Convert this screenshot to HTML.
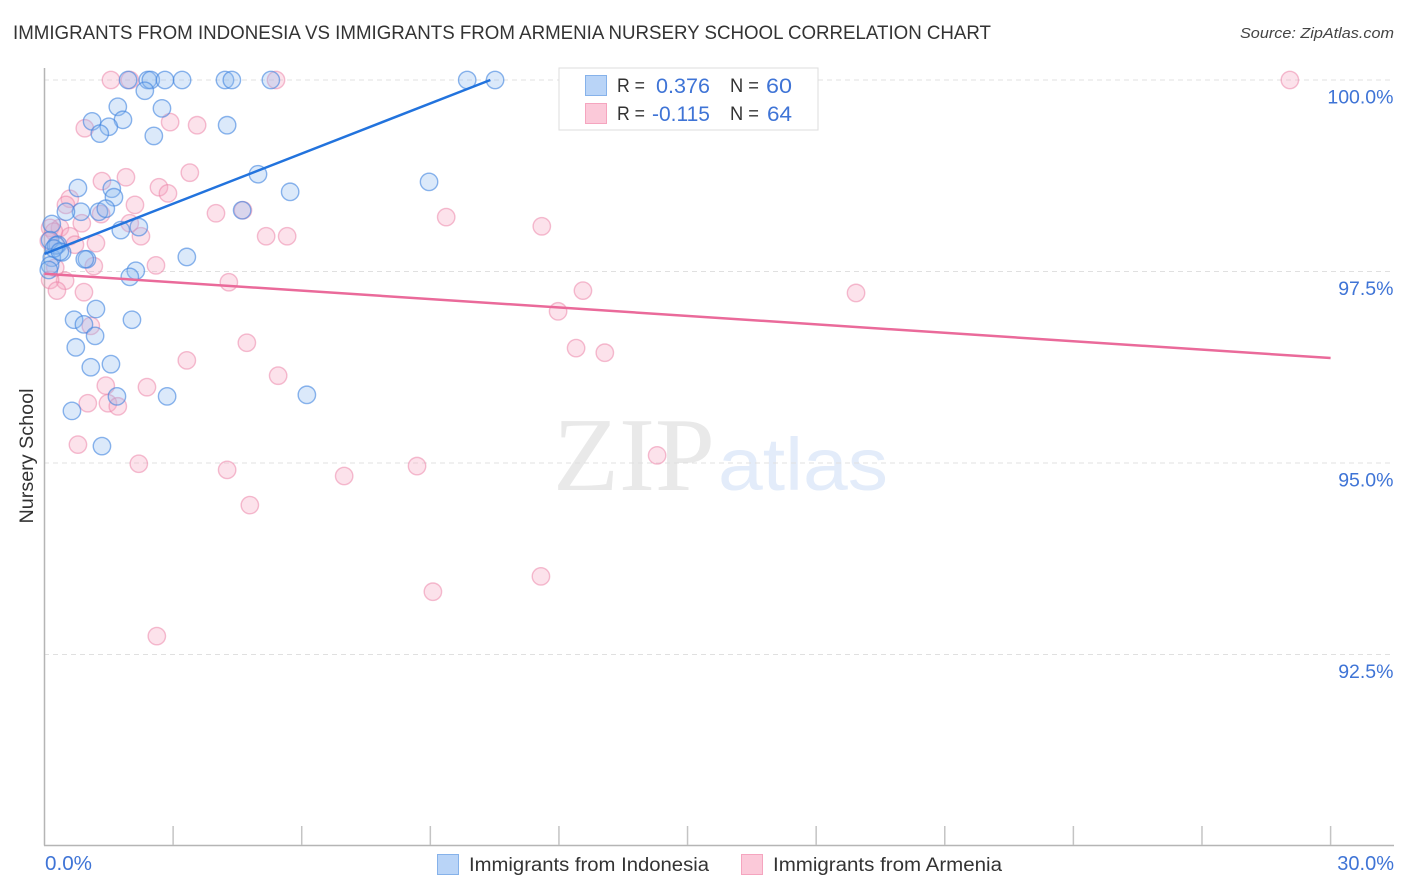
<!DOCTYPE html>
<html lang="en">
<head>
<meta charset="utf-8">
<title>Immigrants from Indonesia vs Immigrants from Armenia Nursery School Correlation Chart</title>
<style>
html,body{margin:0;padding:0;background:#fff;width:1406px;height:892px;overflow:hidden}
svg{display:block;font-family:"Liberation Sans",sans-serif}
</style>
</head>
<body>
<svg id="chart" width="1406" height="892" viewBox="0 0 1406 892" xmlns="http://www.w3.org/2000/svg">
  <rect width="1406" height="892" fill="#fff"/>
  <text x="13" y="39" font-size="19.5" fill="#333" textLength="978" lengthAdjust="spacingAndGlyphs">IMMIGRANTS FROM INDONESIA VS IMMIGRANTS FROM ARMENIA NURSERY SCHOOL CORRELATION CHART</text>
  <text x="1394" y="38" font-size="15" font-style="italic" fill="#444" text-anchor="end" textLength="154" lengthAdjust="spacingAndGlyphs">Source: ZipAtlas.com</text>
  <g>
    <text x="553" y="490" font-family="'Liberation Serif',serif" font-size="105" fill="#e9e9e9" textLength="162" lengthAdjust="spacingAndGlyphs">ZIP</text>
    <text x="718" y="490" font-size="74" fill="#e3ecfa" textLength="170" lengthAdjust="spacingAndGlyphs">atlas</text>
  </g>
  <g id="grid"></g>
  <g id="axes"></g>
  <g id="pink-points"></g>
  <g id="blue-points"></g>
  <g id="trends"></g>
  <text transform="translate(33,456) rotate(-90)" font-size="19" fill="#333" text-anchor="middle" textLength="135" lengthAdjust="spacingAndGlyphs">Nursery School</text>

  <g>
    <rect x="559" y="68" width="259" height="62" fill="#fff" stroke="#ddd" stroke-width="1"/>
    <rect x="585.5" y="75.5" width="21" height="20" fill="#b9d4f7" stroke="#86b2ea"/>
    <rect x="585.5" y="103.5" width="21" height="20" fill="#fbc9d9" stroke="#f5a5bf"/>
    <text x="617" y="92" font-size="19" fill="#333" textLength="28" lengthAdjust="spacingAndGlyphs">R =</text>
    <text x="656" y="93" font-size="21" fill="#3f74d6" textLength="54" lengthAdjust="spacingAndGlyphs">0.376</text>
    <text x="730" y="92" font-size="19" fill="#333" textLength="29" lengthAdjust="spacingAndGlyphs">N =</text>
    <text x="766" y="93" font-size="21" fill="#3f74d6" textLength="26" lengthAdjust="spacingAndGlyphs">60</text>
    <text x="617" y="120" font-size="19" fill="#333" textLength="28" lengthAdjust="spacingAndGlyphs">R =</text>
    <text x="652" y="121" font-size="21" fill="#3f74d6" textLength="58" lengthAdjust="spacingAndGlyphs">-0.115</text>
    <text x="730" y="120" font-size="19" fill="#333" textLength="29" lengthAdjust="spacingAndGlyphs">N =</text>
    <text x="767" y="121" font-size="21" fill="#3f74d6" textLength="25" lengthAdjust="spacingAndGlyphs">64</text>
  </g>

  <g>
    <rect x="437.5" y="854.5" width="21" height="20" fill="#b9d4f7" stroke="#86b2ea"/>
    <text x="469" y="871" font-size="19" fill="#333" textLength="240" lengthAdjust="spacingAndGlyphs">Immigrants from Indonesia</text>
    <rect x="741.5" y="854.5" width="21" height="20" fill="#fbc9d9" stroke="#f5a5bf"/>
    <text x="773" y="871" font-size="19" fill="#333" textLength="229" lengthAdjust="spacingAndGlyphs">Immigrants from Armenia</text>
  </g>
</svg>
<script>
var yTickValues = [100, 97.5, 95, 92.5];
var yTickLabels = ["100.0%", "97.5%", "95.0%", "92.5%"];
var xTickValues = [3, 6, 9, 12, 15, 18, 21, 24, 27, 30];
var xEndLabels = ["0.0%", "30.0%"];

var indonesiaX = [1.95,2.41,2.48,2.81,3.21,4.21,4.37,5.28,9.86,10.51,2.34,1.71,2.74,1.11,1.83,1.50,1.29,2.55,4.26,4.98,8.97,5.73,0.78,1.57,1.62,4.61,0.85,1.27,1.43,0.50,0.17,1.78,2.20,3.32,0.13,0.31,0.41,0.99,0.94,0.17,0.13,2.13,1.99,1.20,0.69,0.92,2.04,1.18,0.73,1.55,1.08,2.86,6.12,1.69,0.64,1.34,0.27,0.22,0.36,0.10];
var indonesiaY = [100,100,100,100,100,100,100,100,100,100,99.86,99.65,99.63,99.46,99.48,99.39,99.30,99.27,99.41,98.77,98.67,98.54,98.59,98.58,98.47,98.30,98.28,98.28,98.32,98.28,98.12,98.04,98.08,97.69,97.91,97.85,97.75,97.66,97.66,97.68,97.58,97.51,97.43,97.01,96.87,96.81,96.87,96.66,96.51,96.29,96.25,95.87,95.89,95.87,95.68,95.22,97.84,97.80,97.76,97.52];

var armeniaX = [1.55,1.99,5.40,29.05,0.94,2.93,3.56,3.39,1.90,1.34,2.67,2.88,0.59,2.11,0.50,4.00,4.63,9.37,1.32,1.99,0.87,11.6,2.25,5.17,5.66,1.20,0.36,0.13,0.22,0.59,0.71,1.15,2.60,4.30,0.48,0.13,0.29,0.92,12.56,18.93,11.98,1.08,4.72,12.4,13.07,3.32,5.45,1.43,2.39,1.01,1.48,1.71,0.78,2.20,4.26,8.69,14.29,6.99,4.79,11.58,9.06,2.62,0.10,0.25];
var armeniaY = [100,100,100,100,99.37,99.45,99.41,98.79,98.73,98.68,98.60,98.52,98.45,98.37,98.37,98.26,98.30,98.21,98.25,98.13,98.13,98.09,97.96,97.96,97.96,97.87,98.07,98.07,98.02,97.96,97.85,97.57,97.58,97.36,97.38,97.39,97.25,97.23,97.25,97.22,96.98,96.79,96.57,96.50,96.44,96.34,96.14,96.01,95.99,95.78,95.78,95.74,95.24,94.99,94.91,94.96,95.10,94.83,94.45,93.52,93.32,92.74,97.90,97.55];

var indonesiaTrendX = [0, 10.4];
var indonesiaTrendY = [97.73, 100];
var armeniaTrendX = [0, 30];
var armeniaTrendY = [97.47, 96.37];

var NS = "http://www.w3.org/2000/svg";
function xPos(v){ return 44.5 + v * 42.87; }
function yPos(v){ return 80 + (100 - v) * 76.6; }
function make(tag, attrs, parent){
  var el = document.createElementNS(NS, tag);
  for (var k in attrs) el.setAttribute(k, attrs[k]);
  parent.appendChild(el);
  return el;
}

var grid = document.getElementById("grid");
var axes = document.getElementById("axes");

yTickValues.forEach(function(v, i){
  var line = make("line", {x1:44, x2:1394, y1:yPos(v), y2:yPos(v), stroke:"#e0e0e0", "stroke-width":1, "stroke-dasharray":"5 4"}, grid);
  
  
  var label = make("text", {x:1393.5, y:yPos(v) + 23.5, "font-size":19.5, fill:"#3f74d6", "text-anchor":"end"}, axes);
  
  
  label.textContent = yTickLabels[i];
});

var yAxis = make("line", {x1:44.5, x2:44.5, y1:68, y2:845.5, stroke:"#b5b5b5", "stroke-width":1.5}, axes);


var xAxis = make("line", {x1:44, x2:1394, y1:845.5, y2:845.5, stroke:"#b5b5b5", "stroke-width":1.5}, axes);



xTickValues.forEach(function(v){
  var tick = make("line", {x1:xPos(v), x2:xPos(v), y1:826, y2:845, stroke:"#c4c4c4", "stroke-width":1.5}, axes);
  
  
});

var xLabelStart = make("text", {x:45, y:870, "font-size":20, fill:"#3f74d6", textLength:47, lengthAdjust:"spacingAndGlyphs"}, axes);


xLabelStart.textContent = xEndLabels[0];
var xLabelEnd = make("text", {x:1394, y:870, "font-size":20, fill:"#3f74d6", "text-anchor":"end"}, axes);


xLabelEnd.textContent = xEndLabels[1];

var pinkGroup = document.getElementById("pink-points");
armeniaX.forEach(function(v, i){
  var c = make("circle", {cx:xPos(v), cy:yPos(armeniaY[i]), r:8.7, fill:"#f7a8c2", "fill-opacity":0.33, stroke:"#ec7ea3", "stroke-opacity":0.5, "stroke-width":1.4}, pinkGroup);
  
  
});

var blueGroup = document.getElementById("blue-points");
indonesiaX.forEach(function(v, i){
  var c = make("circle", {cx:xPos(v), cy:yPos(indonesiaY[i]), r:8.7, fill:"#8fbaf0", "fill-opacity":0.32, stroke:"#3f83e0", "stroke-opacity":0.6, "stroke-width":1.4}, blueGroup);
  
  
});

var trends = document.getElementById("trends");
var blueTrend = make("line", {x1:xPos(indonesiaTrendX[0]), y1:yPos(indonesiaTrendY[0]), x2:xPos(indonesiaTrendX[1]), y2:yPos(indonesiaTrendY[1]), stroke:"#2273dd", "stroke-width":2.5}, trends);


var pinkTrend = make("line", {x1:xPos(armeniaTrendX[0]), y1:yPos(armeniaTrendY[0]), x2:xPos(armeniaTrendX[1]), y2:yPos(armeniaTrendY[1]), stroke:"#ea6a9a", "stroke-width":2.5}, trends);


</script>
</body>
</html>
